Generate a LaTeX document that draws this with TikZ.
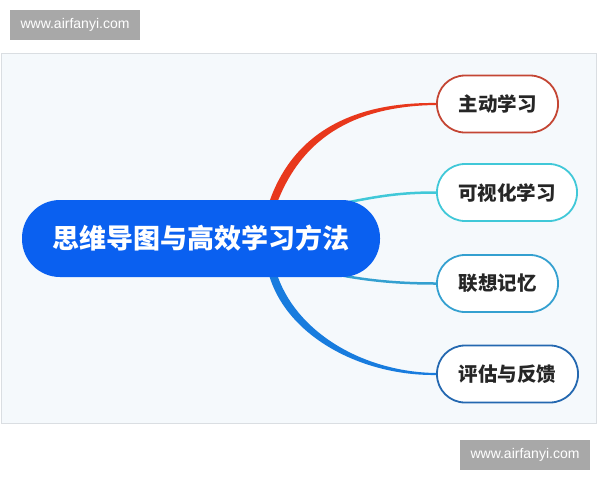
\documentclass[tikz,border=0pt]{standalone}
\usepackage{fontspec}
\setmainfont{Liberation Sans}
\newfontfamily\cjk{Noto Sans CJK SC}
\usetikzlibrary{positioning}
\definecolor{bg}{RGB}{245, 249, 252}
\definecolor{frame}{RGB}{218, 222, 226}
\definecolor{hub}{RGB}{10, 96, 240}
\definecolor{rd}{RGB}{196, 70, 52}
\definecolor{rdl}{RGB}{232, 56, 28}
\definecolor{cy}{RGB}{64, 200, 216}
\definecolor{tl}{RGB}{52, 160, 208}
\definecolor{bl}{RGB}{36, 104, 176}
\definecolor{bll}{RGB}{24, 124, 222}
\definecolor{wm}{RGB}{168, 168, 168}
\pgfdeclarelayer{back}
\pgfdeclarelayer{mid}
\pgfsetlayers{back,mid,main}

\begin{document}
\begin{tikzpicture}[
  hubnode/.style={rectangle, rounded corners=38pt, fill=hub, text=white, minimum width=358pt, minimum height=77pt, font=\cjk\bfseries\fontsize{27}{30}\selectfont},
  leaf/.style={rectangle, rounded corners=28pt, fill=white, line width=1.8pt, minimum height=57pt, text=black!85, font=\cjk\bfseries\fontsize{19.5}{22}\selectfont},
  wmark/.style={fill=wm, text=white, minimum width=130pt, minimum height=30pt, inner sep=0pt, font=\fontsize{14}{16}\selectfont}]
\useasboundingbox (0pt, 0pt) rectangle (600pt, -480pt);
\node (0) [hubnode] at (201.0pt, -238.5pt) {思维导图与高效学习方法};
\node (1) [leaf, draw=rd, minimum width=121pt] at (497.5pt, -104.0pt) {主动学习};
\node (2) [leaf, draw=cy, minimum width=140pt] at (507.0pt, -192.5pt) {可视化学习};
\node (3) [leaf, draw=tl, minimum width=121pt] at (497.5pt, -283.5pt) {联想记忆};
\node (4) [leaf, draw=bl, minimum width=141pt] at (507.5pt, -374.0pt) {评估与反馈};
\begin{pgfonlayer}{back}
\draw [draw=frame, fill=bg, line width=0.8pt] (1pt, -53pt) rectangle (596pt, -423pt);
\node (w1) [wmark] at (75pt, -25pt) {www.airfanyi.com};
\node (w2) [wmark] at (525pt, -455pt) {www.airfanyi.com};
\end{pgfonlayer}
\begin{pgfonlayer}{mid}
\fill [rdl] ([xshift=67pt, yshift=-6pt]0.north) .. controls (293pt, -128pt) and (360pt, -102pt) .. ([yshift=1pt]1.west) -- ([yshift=-1pt]1.west) .. controls (362pt, -106pt) and (303pt, -132pt) .. ([xshift=75pt, yshift=-6pt]0.north) -- cycle;
\draw [cy, line width=2.5pt] ([xshift=144pt, yshift=-3pt]0.north) .. controls (380pt, -196pt) and (400pt, -192.5pt) .. (2.west);
\draw [tl, line width=2.5pt] ([xshift=134pt, yshift=3pt]0.south) .. controls (370pt, -281pt) and (400pt, -283.5pt) .. (3.west);
\fill [bll] ([xshift=67pt, yshift=6pt]0.south) .. controls (284pt, -335pt) and (360pt, -376pt) .. ([yshift=-1pt]4.west) -- ([yshift=1pt]4.west) .. controls (362pt, -372pt) and (294pt, -331pt) .. ([xshift=75pt, yshift=6pt]0.south) -- cycle;
\end{pgfonlayer}
\end{tikzpicture}
\end{document}
